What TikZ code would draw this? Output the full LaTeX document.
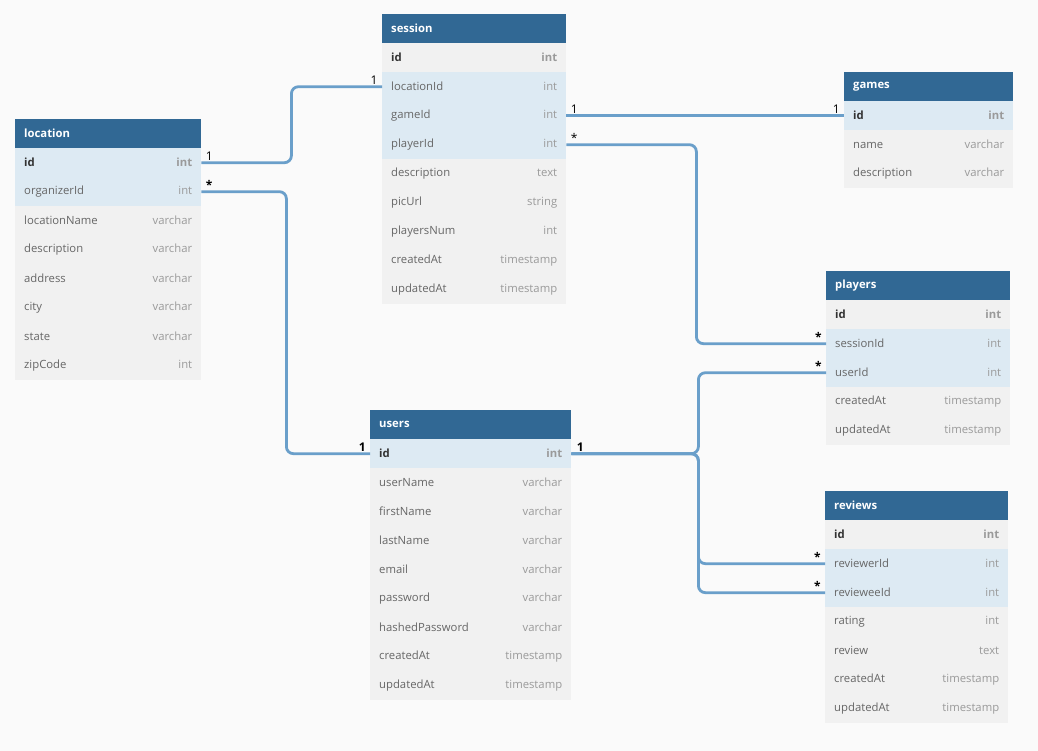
\documentclass[tikz,border=0pt]{standalone}
\usepackage{fontspec}
\setmainfont{Open Sans}
\usetikzlibrary{positioning}

\definecolor{pagebg}{HTML}{FAFAFA}
\definecolor{headblue}{HTML}{316894}
\definecolor{keyblue}{HTML}{DDEAF3}
\definecolor{rowgray}{HTML}{F1F1F1}
\definecolor{linkblue}{HTML}{6A9FCA}
\definecolor{namegray}{HTML}{666666}
\definecolor{typegray}{HTML}{9A9A9A}
\definecolor{idgray}{HTML}{333333}

\begin{document}
\begin{tikzpicture}[x=1pt, y=-1pt,
    cell/.style={anchor=north west, minimum height=29pt, inner xsep=9pt, inner ysep=0pt, align=left, font=\fontsize{11.3}{13}\selectfont},
    hdr/.style={cell, fill=headblue, text=white, font=\bfseries\fontsize{11.3}{13}\selectfont},
    plainrow/.style={cell, fill=rowgray, text=namegray},
    fkrow/.style={cell, fill=keyblue, text=namegray},
    idblue/.style={cell, fill=keyblue, text=idgray, font=\bfseries\fontsize{11.3}{13}\selectfont},
    idgrey/.style={cell, fill=rowgray, text=idgray, font=\bfseries\fontsize{11.3}{13}\selectfont},
    link/.style={draw=linkblue, line width=2.8pt, rounded corners=7pt},
    lbl/.style={inner sep=1pt, font=\fontsize{12}{13}\selectfont, text=black},
    blbl/.style={lbl, font=\bfseries\fontsize{12}{13}\selectfont}
]
% page
\fill[pagebg] (0,0) rectangle (1038,751);

% location
\begin{scope}[tab/.style={text width=168pt}]
\node[hdr, tab] (location) at (15,119) {location};
\foreach \fn/\ft/\st [count=\i] in {id/int/idblue, organizerId/int/fkrow, locationName/varchar/plainrow,
    description/varchar/plainrow, address/varchar/plainrow, city/varchar/plainrow,
    state/varchar/plainrow, zipCode/int/plainrow}
  \node[\st, tab] (location-\i) at (15,{119+29*\i}) {\fn\hfill\textcolor{typegray}{\ft}};
\end{scope}

% session
\begin{scope}[tab/.style={text width=166pt}]
\node[hdr, tab] (session) at (382,14) {session};
\foreach \fn/\ft/\st [count=\i] in {id/int/idgrey, locationId/int/fkrow, gameId/int/fkrow,
    playerId/int/fkrow, description/text/plainrow, picUrl/string/plainrow,
    playersNum/int/plainrow, createdAt/timestamp/plainrow, updatedAt/timestamp/plainrow}
  \node[\st, tab] (session-\i) at (382,{14+29*\i}) {\fn\hfill\textcolor{typegray}{\ft}};
\end{scope}

% games
\begin{scope}[tab/.style={text width=151pt}]
\node[hdr, tab] (games) at (844,72) {games};
\foreach \fn/\ft/\st [count=\i] in {id/int/idblue, name/varchar/plainrow, description/varchar/plainrow}
  \node[\st, tab] (games-\i) at (844,{72+29*\i}) {\fn\hfill\textcolor{typegray}{\ft}};
\end{scope}

% players
\begin{scope}[tab/.style={text width=166pt}]
\node[hdr, tab] (players) at (826,271) {players};
\foreach \fn/\ft/\st [count=\i] in {id/int/idgrey, sessionId/int/fkrow, userId/int/fkrow,
    createdAt/timestamp/plainrow, updatedAt/timestamp/plainrow}
  \node[\st, tab] (players-\i) at (826,{271+29*\i}) {\fn\hfill\textcolor{typegray}{\ft}};
\end{scope}

% users
\begin{scope}[tab/.style={text width=183pt}]
\node[hdr, tab] (users) at (370,410) {users};
\foreach \fn/\ft/\st [count=\i] in {id/int/idblue, userName/varchar/plainrow, firstName/varchar/plainrow,
    lastName/varchar/plainrow, email/varchar/plainrow, password/varchar/plainrow,
    hashedPassword/varchar/plainrow, createdAt/timestamp/plainrow, updatedAt/timestamp/plainrow}
  \node[\st, tab] (users-\i) at (370,{410+29*\i}) {\fn\hfill\textcolor{typegray}{\ft}};
\end{scope}

% reviews
\begin{scope}[tab/.style={text width=165pt}]
\node[hdr, tab] (reviews) at (825,491) {reviews};
\foreach \fn/\ft/\st [count=\i] in {id/int/idgrey, reviewerId/int/fkrow, revieweeId/int/fkrow,
    rating/int/plainrow, review/text/plainrow, createdAt/timestamp/plainrow, updatedAt/timestamp/plainrow}
  \node[\st, tab] (reviews-\i) at (825,{491+29*\i}) {\fn\hfill\textcolor{typegray}{\ft}};
\end{scope}

% location -> session / users
\draw[link] (location-1.east) node[lbl, anchor=south west, xshift=2pt] {1}
  -- ++(90,0) |- (session-2.west) node[lbl, anchor=south east, xshift=-2pt] {1};
\draw[link] (location-2.east) node[blbl, anchor=south west, xshift=2pt] {*}
  -- ++(85,0) |- (users-1.west) node[blbl, anchor=south east, xshift=-2pt] {1};

% session -> games / players
\draw[link] (session-3.east) node[lbl, anchor=south west, xshift=2pt] {1}
  -- (games-1.west) node[lbl, anchor=south east, xshift=-2pt] {1};
\draw[link] (session-4.east) node[lbl, anchor=south west, xshift=2pt] {*}
  -- ++(130,0) |- (players-2.west) node[blbl, anchor=south east, xshift=-2pt] {*};

% users -> players / reviews
\draw[link] (users-1.east) node[blbl, anchor=south west, xshift=3pt] {1}
  -- ++(127,0) |- (players-3.west) node[blbl, anchor=south east, xshift=-2pt] {*};
\draw[link] (users-1.east) -- ++(127,0) |- (reviews-2.west) node[blbl, anchor=south east, xshift=-2pt] {*};
\draw[link] (users-1.east) -- ++(127,0) |- (reviews-3.west) node[blbl, anchor=south east, xshift=-2pt] {*};
\end{tikzpicture}
\end{document}
